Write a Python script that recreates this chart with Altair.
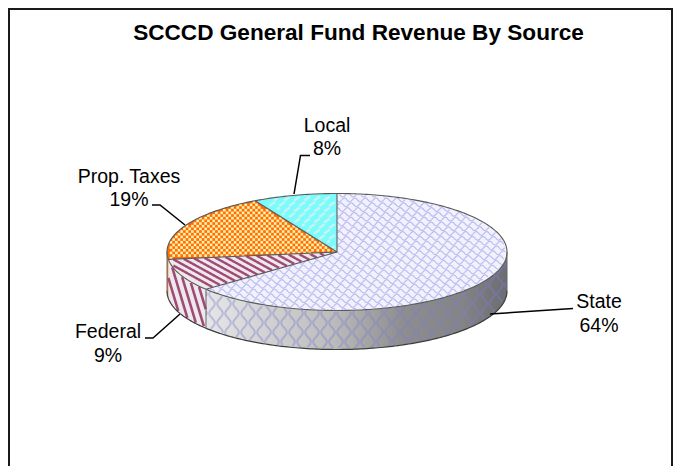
import altair as alt
import numpy as np
import pandas as pd

# ---- chart values -------------------------------------------------------
categories = ["State", "Federal", "Prop. Taxes", "Local"]
shares = [64, 9, 19, 8]
chart_title = "SCCCD General Fund Revenue By Source"

# ---- layout (reference pixel coordinates) -------------------------------
CX, CY, RX, RY, DEPTH = 337.0, 252.0, 170.0, 58.5, 39.0
label_x = [599, 108, 129, 327]
label_y = [308.3, 338, 182.7, 131.7]
LINE_GAP = 23.5
leaders = [
    [(490, 314), (573, 308.5)],
    [(145, 338), (153, 338), (180, 314)],
    [(152, 205), (160, 205), (185, 225)],
    [(294, 194), (300.5, 155.5), (310, 155.5)],
]
FRAME = [(9, 470), (9, 9), (672, 9), (672, 470)]

W, H = 665, 458
xs = alt.Scale(domain=[8, 8 + W], nice=False, zero=False)
ys = alt.Scale(domain=[8 + H, 8], nice=False, zero=False)
X = alt.X("x:Q", scale=xs, axis=None)
Y = alt.Y("y:Q", scale=ys, axis=None)

edges = np.cumsum([0] + shares) * 3.6
angles = list(zip(edges[:-1], edges[1:]))


def top_xy(t):
    r = np.radians(t)
    return CX + RX * np.sin(r), CY - RY * np.cos(r)


def sector_points(a0, a1):
    t = np.linspace(a0, a1, max(3, int(a1 - a0) + 2))
    x, y = top_xy(t)
    return np.r_[CX, x], np.r_[CY, y]


def side_points(a0, a1):
    t = np.linspace(a0, a1, max(3, int(a1 - a0) + 2))
    x, y = top_xy(t)
    return np.r_[x, x[::-1]], np.r_[y, y[::-1] + DEPTH]


def polygon(px, py, fill):
    df = pd.DataFrame({"x": px, "y": py, "i": np.arange(len(px))})
    return alt.Chart(df).mark_line(
        fill=fill, stroke=None, interpolate="linear-closed", strokeWidth=0
    ).encode(x=X, y=Y, order="i:Q")


def lines(segs, color, width, opacity=1.0, cap="butt"):
    rows = []
    for sid, (px, py) in enumerate(segs):
        rows.append(pd.DataFrame({"x": px, "y": py, "i": np.arange(len(px)), "s": sid}))
    df = pd.concat(rows, ignore_index=True)
    return alt.Chart(df).mark_line(
        color=color, strokeWidth=width, opacity=opacity, strokeCap=cap
    ).encode(x=X, y=Y, order="i:Q", detail="s:N")


def in_top(x, y, a0, a1):
    u, v = (x - CX) / RX, (y - CY) / RY
    t = np.degrees(np.arctan2(u, -v)) % 360
    return (u * u + v * v <= 0.985) & (t >= a0) & (t <= a1)


def in_side(x, y, a0, a1):
    u = (x - CX) / RX
    ok = np.abs(u) < 1
    uu = np.clip(u, -1, 1)
    yt = CY + RY * np.sqrt(1 - uu * uu)
    t = 180 - np.degrees(np.arcsin(uu))
    return ok & (y >= yt + 0.7) & (y <= yt + DEPTH - 0.7) & (t >= a0) & (t <= a1)


def clip(px, py, mask):
    out, start = [], None
    for k, m in enumerate(list(mask) + [False]):
        if m and start is None:
            start = k
        if not m and start is not None:
            if k - start >= 2:
                out.append((px[start:k], py[start:k]))
            start = None
    return out


layers = []

# ---- sides --------------------------------------------------------------
a_state, a_fed, a_prop, a_local = angles
grad_state = alt.LinearGradient(
    gradient="linear", x1=0, x2=1, y1=0, y2=0,
    stops=[
        alt.GradientStop(color="#e6e6e6", offset=0),
        alt.GradientStop(color="#bcbcbc", offset=0.42),
        alt.GradientStop(color="#8e8e8e", offset=0.65),
        alt.GradientStop(color="#848484", offset=0.85),
        alt.GradientStop(color="#6c6c72", offset=1),
    ],
)
layers.append(polygon(*side_points(90, a_state[1]), grad_state))
layers.append(polygon(*side_points(*a_fed), "#eeeaec"))
layers.append(polygon(*side_points(a_prop[0], 270), "#f08020"))

# wave texture on the State side
segs = []
yy = np.arange(CY - 5, CY + RY + DEPTH + 5, 1.0)
for c, x0 in enumerate(np.arange(196, 515, 8.0)):
    ph = np.pi * (c % 2)
    xx = x0 + 2.8 * np.sin(2 * np.pi * (yy - 280) / 19 + ph)
    segs += clip(xx, yy, in_side(xx, yy, 90, a_state[1]))
layers.append(lines(segs, "#7c7cd4", 2.0, 0.4))

# stripes on the Federal side
segs = []
yy = np.arange(CY, CY + RY + DEPTH + 5, 0.7)
for x0 in np.arange(130, 230, 7.0):
    xx = x0 + (yy - 290) * 0.3
    segs += clip(xx, yy, in_side(xx, yy, *a_fed))
layers.append(lines(segs, "#a04a78", 2.6))

# ---- top faces ----------------------------------------------------------
top_fill = ["#f2f2fd", "#efe9ec", "#ff6c00", "#7bfbfb"]
for (a0, a1), f in zip(angles, top_fill):
    layers.append(polygon(*sector_points(a0, a1), f))

# State scales
segs = []
xx = np.arange(CX - RX - 4, CX + RX + 4, 0.7)
for r, y0 in enumerate(np.arange(CY - RY - 8, CY + RY + 8, 4.8)):
    ph = 0.7 * np.pi * r
    yy = y0 + 1.9 * np.sin(2 * np.pi * (xx - CX) / 10.5 + ph)
    segs += clip(xx, yy, in_top(xx, yy, *a_state))
layers.append(lines(segs, "#bcbcf2", 1.2))

# Federal stripes
segs = []
xx = np.arange(CX - RX - 4, CX + 40, 0.8)
for y0 in np.arange(150, 330, 6.2):
    yy = y0 + (xx - 200) * 0.55
    segs += clip(xx, yy, in_top(xx, yy, *a_fed))
layers.append(lines(segs, "#a04a78", 2.4))

# Prop. Taxes checker
P = 5.34
cells = []
for r, yc in enumerate(np.arange(CY - RY - 2, CY + 12, P / 2)):
    for xc in np.arange(CX - RX - 4 + (r % 2) * P / 2, CX + 4, P):
        if in_top(np.array([xc]), np.array([yc]), a_prop[0] + 0.8, a_prop[1] - 0.8)[0]:
            cells.append((xc - P / 4, xc + P / 4, yc - P / 4, yc + P / 4))
cdf = pd.DataFrame(cells, columns=["x", "x2", "y", "y2"])
layers.append(
    alt.Chart(cdf).mark_rect(color="#fff1ae", stroke=None).encode(x=X, x2="x2:Q", y=Y, y2="y2:Q")
)

# Local brick dashes
segs = []
for r, yc in enumerate(np.arange(CY - RY - 6, CY + 6, 5.5)):
    for xc in np.arange(CX - 100 + (r % 2) * 5.0, CX + 4, 10.0):
        px = np.array([xc - 2.8, xc, xc + 2.8])
        py = np.array([yc + 2.0, yc, yc - 2.0])
        segs += clip(px, py, in_top(px, py, a_local[0] + 1, a_local[1] - 0.5))
layers.append(lines(segs, "#c4f4f4", 2.6))

# ---- outlines -----------------------------------------------------------
t = np.linspace(0, 360, 361)
ox, oy = top_xy(t)
outline = [(ox, oy)]
for e in edges[:-1]:
    ex, ey = top_xy(np.array([e]))
    outline.append((np.array([CX, ex[0]]), np.array([CY, ey[0]])))
layers.append(lines(outline, "#5a5a5a", 1.1))

t = np.linspace(90, 270, 181)
bx, by = top_xy(t)
layers.append(lines([(bx, by + DEPTH)], "#3c3c3c", 1.2))
ex, ey = top_xy(np.array([a_state[1]]))
layers.append(lines([
    (np.array([ex[0], ex[0]]), np.array([ey[0], ey[0] + DEPTH])),
    (np.array([CX + RX, CX + RX]), np.array([CY, CY + DEPTH])),
    (np.array([CX - RX, CX - RX]), np.array([CY, CY + DEPTH])),
], "#666666", 1.0))

# ---- leaders and labels -------------------------------------------------
layers.append(lines(
    [(np.array([p[0] for p in l], float), np.array([p[1] for p in l], float)) for l in leaders],
    "#000000", 1.5,
))
rows = []
for name, share, lx, ly in zip(categories, shares, label_x, label_y):
    rows.append({"x": lx, "y": ly, "t": name})
    rows.append({"x": lx, "y": ly + LINE_GAP, "t": f"{share}%"})
layers.append(
    alt.Chart(pd.DataFrame(rows)).mark_text(
        font="Liberation Sans", fontSize=19.5, color="#000000", align="center", baseline="alphabetic"
    ).encode(x=X, y=Y, text="t:N")
)

# ---- frame --------------------------------------------------------------
layers.append(lines(
    [(np.array([p[0] for p in FRAME], float), np.array([p[1] for p in FRAME], float))],
    "#1a1a1a", 2.0,
))

chart = (
    alt.layer(*layers)
    .properties(
        width=W,
        height=H,
        padding=0,
        autosize=alt.AutoSizeParams(type="none"),
        background="#ffffff",
        title=alt.TitleParams(
            text=chart_title, font="Liberation Sans", fontSize=22.6, fontWeight="bold",
            color="#000000", anchor="middle", frame="group", offset=0,
            baseline="alphabetic", dx=18, dy=58,
        ),
    )
    .configure_view(stroke=None)
)

chart.save("out.html", embed_options={"renderer": "svg", "actions": False})
